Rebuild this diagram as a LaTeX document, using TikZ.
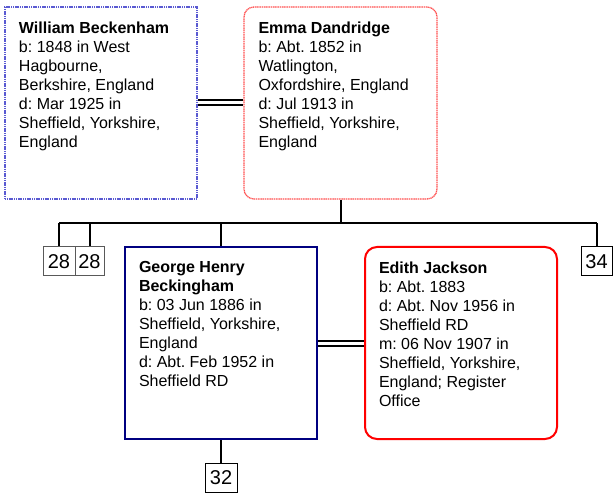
\documentclass[tikz,border=0pt]{standalone}
\usepackage{fontspec}
\setmainfont{Liberation Sans}
\usetikzlibrary{positioning}

\definecolor{dadblue}{RGB}{90,90,210}
\definecolor{mumred}{RGB}{255,80,80}
\definecolor{navyline}{RGB}{0,0,128}

\newcommand{\personbox}[1]{\parbox[c][192pt][t]{164pt}{\fontsize{16}{19}\selectfont\frenchspacing\vspace*{14.5pt}#1}}

\begin{document}
\begin{tikzpicture}[
  x=1pt, y=-1pt,
  person/.style={inner sep=0pt, minimum width=192pt, minimum height=192pt, line width=1pt},
  father/.style={person, draw=dadblue, line width=1.3pt, dash pattern=on 1.2pt off 0.6pt},
  mother/.style={person, draw=mumred, line width=1.3pt, dash pattern=on 1.2pt off 0.6pt, rounded corners=10pt},
  son/.style={person, draw=navyline, line width=2pt},
  wife/.style={person, draw=red, line width=2pt, rounded corners=12pt},
  ref/.style={draw, line width=1pt, inner sep=0pt, minimum width=31pt, minimum height=29pt, font=\fontsize{20}{20}\selectfont},
  line/.style={line width=2pt},
  marriage/.style={line width=2pt, double distance=3pt}
]
\useasboundingbox (0,0) rectangle (613,494);

\node[father, minimum width=192pt] (william) at (101,103) {\personbox{\textbf{William Beckenham}\\b: 1848 in West\\Hagbourne,\\Berkshire, England\\d: Mar 1925 in\\Sheffield, Yorkshire,\\England}};
\node[mother, minimum width=193pt] (emma) at (340.5,103) {\personbox{\textbf{Emma Dandridge}\\b: Abt. 1852 in\\Watlington,\\Oxfordshire, England\\d: Jul 1913 in\\Sheffield, Yorkshire,\\England}};

\node[son] (george) at (221,343) {\personbox{\textbf{George Henry}\\\textbf{Beckingham}\\b: 03 Jun 1886 in\\Sheffield, Yorkshire,\\England\\d: Abt. Feb 1952 in\\Sheffield RD}};
\node[wife] (edith) at (461,343) {\personbox{\textbf{Edith Jackson}\\b: Abt. 1883\\d: Abt. Nov 1956 in\\Sheffield RD\\m: 06 Nov 1907 in\\Sheffield, Yorkshire,\\England; Register\\Office}};

\node[ref, draw=black!65, minimum width=32pt] (ref28a) at (59,261.5) {28};
\node[ref, draw=black!65, minimum width=29pt] (ref28b) at (89.5,261.5) {28};
\node[ref] (ref34) at (596.5,261.5) {34};
\node[ref, minimum width=32pt] (ref32) at (221,477.5) {32};

\coordinate (bar) at (0,223);

\draw[marriage] (william) -- (emma);
\draw[marriage] (george) -- (edith);

\draw[line] (emma.south) -- (emma.south |- bar);
\draw[line] (ref28a.north |- bar) -- (ref34.north |- bar);
\draw[line] (ref28a.north |- bar) -- (ref28a.north);
\draw[line] (ref28b.north |- bar) -- (ref28b.north);
\draw[line] (george.north |- bar) -- (george.north);
\draw[line] (ref34.north |- bar) -- (ref34.north);
\draw[line] (george.south) -- (ref32.north);
\end{tikzpicture}
\end{document}
